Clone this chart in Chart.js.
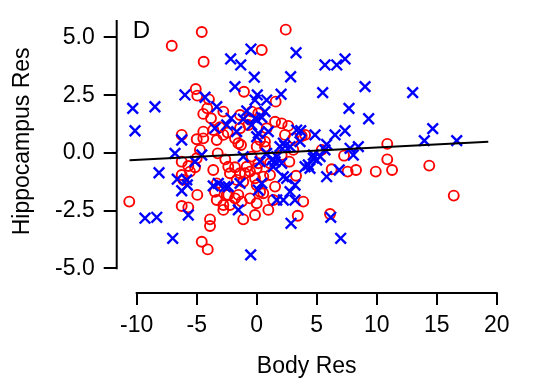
<!DOCTYPE html>
<html>
<head>
<meta charset="utf-8">
<script src="https://cdn.jsdelivr.net/npm/chart.js@4.4.1/dist/chart.umd.min.js"></script>
<style>
  html, body { margin: 0; padding: 0; background: #fff; }
  canvas { display: block; }
</style>
</head>
<body>
<canvas id="chart" width="537" height="390"></canvas>
<script>
// Dane (residua: ciało vs hipokamp)
const circleBody = [
  -4.58, 2.42, -7.08, 0.42, -4.42, -5.08, -4.95, -1.06, 1.58, -3.98,
  -4.12, -4.45, -2.78, -3.81, -6.25, -5.00, -4.45, -3.33, -3.06, -2.42,
  -1.53, -1.39, -0.42, -0.70, 1.53, 2.08, 2.63, 2.36, 3.05, 0.69,
  0.00, -3.62, 10.88, 4.03, 7.28, 10.88, 11.28, 9.92, 8.28, 7.58,
  6.25, 14.38, 16.42, 3.28, 3.88, 3.42, 6.11, 2.72, 3.05, 3.75,
  5.42, -10.62, -6.25, -6.25, -5.70, -4.95, -3.89, -3.89, -4.58, -4.08,
  -3.62, -3.25, -2.62, -3.33, -3.48, -3.33, -2.50, -2.78, -2.78, -2.23,
  -1.67, -1.81, -1.25, -1.12, -0.98, -0.14, 0.00, 0.00, -0.14, 0.55,
  0.97, 1.38, 1.53, -0.42, 0.13, 1.11, -5.70, -5.56, -5.14, -6.12,
  -6.25, -5.00, -4.73, -1.31, 0.28, 0.69, 2.08, -1.81, -0.83, -2.37,
  -1.39, -1.12, -2.37, -1.53, -2.23, -0.56, -0.56, 0.00, 1.11, 0.55,
  0.28, -4.45, -2.78, -1.81, -0.56, -1.39, 0.83, 0.13
];
const circleHippo = [
  5.24, 5.34, 4.64, 4.46, 3.95, 2.77, 2.48, 2.65, 2.22, 2.32,
  1.93, 1.69, 1.79, 1.50, 0.78, 0.59, 0.92, 0.56, 1.11, 0.88,
  0.42, 1.64, 1.79, 1.21, 1.35, 1.28, 1.17, 0.78, 0.63, 0.49,
  0.27, 0.99, 0.39, 0.78, -0.12, -0.28, -0.74, -0.81, -0.74, -0.81,
  -0.71, -0.55, -1.85, -0.99, -2.11, -2.72, -2.65, -0.38, 0.13, 0.73,
  0.13, -2.11, -0.38, -2.30, -2.36, -1.82, -2.88, -3.17, -3.85, -4.18,
  -0.74, -0.02, -0.28, -1.32, -1.68, -2.04, -1.82, -2.26, -2.47, -0.88,
  -1.17, -1.97, -2.11, -2.88, -0.88, -1.10, -1.39, -2.18, -2.69, -1.75,
  -2.47, -2.04, -1.46, -0.16, -0.45, -0.45, -0.57, -0.81, -0.62, -1.17,
  -0.96, -0.23, 0.13, 0.34, 0.56, 0.27, -0.09, -0.62, -0.60, -0.60,
  -0.88, -1.25, -1.82, -1.82, -2.26, -1.97, -0.81, -0.67, -0.96, -1.03,
  -1.68, 0.63, 0.78, 0.63, 1.43, 1.07, 1.07, 1.72
];
const crossBody = [
  -0.48, -2.17, -1.33, -0.20, 2.83, 3.28, -1.81, -5.98, -4.31, -3.33,
  -10.33, -8.48, -10.14, -0.14, 0.05, 0.83, 2.03, 0.69, 0.42, -0.83,
  -2.14, -1.12, -0.42, 0.13, 0.97, -1.67, -6.25, 3.33, 2.36, 5.69,
  6.67, 7.36, 5.50, 9.03, 13.00, 7.69, 9.33, 14.67, 13.97, 16.67,
  3.67, 4.86, 6.53, 7.36, 3.61, 5.83, 7.78, 8.47, 8.05, 5.28,
  4.72, 5.00, 4.30, 4.44, 4.03, 5.83, 6.88, 2.22, 2.50, 3.19,
  2.78, 2.22, 3.19, 2.86, 6.17, 7.00, 2.22, 2.78, -6.81, -8.14,
  -6.62, -6.25, -5.78, -5.14, -4.58, -9.31, -8.33, -5.70, -7.00, -0.50,
  -3.62, -3.20, -2.37, -1.39, -1.53, 0.13, 0.28, 1.25, 1.38, 2.08,
  1.67, -1.12, 0.83, 1.53, 1.67, 0.42, -5.83, -2.64, -0.14, -3.48,
  -2.50, 0.00, 0.00, 4.72, 5.69, 1.94
];
const crossHippo = [
  4.50, 4.07, 3.81, 3.28, 3.30, 4.34, 2.87, 2.51, 2.41, 2.00,
  1.93, 2.00, 0.96, 2.29, 2.51, 2.29, 2.54, 1.79, 1.54, 1.82,
  1.50, 1.46, 1.21, 0.85, 0.92, 0.92, 0.56, 0.99, 0.30, 3.81,
  3.81, 4.07, 2.61, 2.87, 2.61, 1.93, 1.48, 1.05, 0.53, 0.53,
  0.96, 0.78, 0.78, 0.96, 0.49, 0.37, 0.20, 0.27, -0.09, -0.16,
  -0.23, -0.31, -0.52, -0.67, -0.60, -1.03, -0.74, -1.03, -1.10, -1.39,
  -1.68, -2.04, -2.04, -3.05, -2.79, -3.70, 0.42, 0.27, -0.02, -0.86,
  -1.14, -1.64, -1.39, -0.38, -0.09, -2.83, -2.79, -2.69, -3.70, -4.42,
  -1.43, -1.32, -1.46, -1.32, -2.47, -1.61, -0.38, -0.31, -0.60, -0.45,
  -2.04, -0.16, -0.02, -0.38, -0.16, -1.32, -1.17, -1.46, 1.50, 1.07,
  1.21, 0.70, 1.43, -0.09, 0.13, 0.27
];
// Linia regresji
const fitBody = [-10.6, 19.3];
const fitHippo = [-0.32, 0.48];

// Osie
const xTicks = [-10, -5, 0, 5, 10, 15, 20];
const yTicks = [-5, -2.5, 0, 2.5, 5];
const yTickLabels = ['-5.0', '-2.5', '0.0', '2.5', '5.0'];

const toPoints = (xs, ys) => xs.map((x, i) => ({ x: x, y: ys[i] }));

const FONT = '"Liberation Sans", Arial, Helvetica, sans-serif';
Chart.defaults.font.family = FONT;
Chart.defaults.font.size = 23;
Chart.defaults.color = '#000';

// Osie w stylu S/R: linie odsunięte, litera panelu i tytuł osi Y
const axisPlugin = {
  id: 'axisLines',
  afterDraw(chart) {
    const ctx = chart.ctx;
    const area = chart.chartArea;
    const xs = chart.scales.x;
    const ys = chart.scales.y;
    ctx.save();
    ctx.strokeStyle = '#000';
    ctx.lineWidth = 2;
    ctx.beginPath();
    ctx.moveTo(xs.getPixelForValue(xTicks[0]) - 1, area.bottom);
    ctx.lineTo(area.right + 1, area.bottom);
    ctx.moveTo(area.left, ys.getPixelForValue(yTicks[0]) + 1);
    ctx.lineTo(area.left, area.top);
    ctx.stroke();

    ctx.fillStyle = '#000';
    ctx.font = '24px ' + FONT;
    ctx.textAlign = 'left';
    ctx.textBaseline = 'alphabetic';
    ctx.fillText('D', area.left + 16, area.top + 17.5);

    ctx.font = '23px ' + FONT;
    ctx.translate(28.5, ys.getPixelForValue(0.5));
    ctx.rotate(-Math.PI / 2);
    ctx.textAlign = 'center';
    ctx.fillText('Hippocampus Res', 0, 0);
    ctx.restore();
  }
};

new Chart(document.getElementById('chart'), {
  type: 'scatter',
  data: {
    datasets: [
      {
        type: 'line',
        data: toPoints(fitBody, fitHippo),
        borderColor: '#000',
        borderWidth: 2,
        pointRadius: 0,
        fill: false,
        order: 0
      },
      {
        data: toPoints(crossBody, crossHippo),
        pointStyle: 'crossRot',
        pointRadius: 7.5,
        borderColor: '#0000ff',
        borderWidth: 2.4,
        order: 1
      },
      {
        data: toPoints(circleBody, circleHippo),
        pointStyle: 'circle',
        pointRadius: 5,
        borderColor: '#ff0000',
        backgroundColor: 'rgba(0,0,0,0)',
        borderWidth: 1.9,
        order: 2
      }
    ]
  },
  options: {
    responsive: false,
    animation: false,
    devicePixelRatio: 1,
    clip: false,
    layout: { padding: { top: 20, right: 40.3, bottom: 0, left: 0 } },
    scales: {
      x: {
        type: 'linear',
        min: -11.667,
        max: 20,
        afterBuildTicks: (scale) => { scale.ticks = xTicks.map(v => ({ value: v })); },
        afterFit: (scale) => { scale.height = 97; scale.paddingLeft = 0; scale.paddingRight = 0; },
        grid: { display: true, drawOnChartArea: false, drawTicks: true, tickLength: 12, color: '#000', lineWidth: 2 },
        border: { display: false },
        ticks: { padding: 7, maxRotation: 0, autoSkip: false, callback: (v) => String(v) },
        title: { display: true, text: 'Body Res', padding: { top: 0, bottom: 10 } }
      },
      y: {
        type: 'linear',
        min: -6.07,
        max: 5.758,
        afterBuildTicks: (scale) => { scale.ticks = yTicks.map(v => ({ value: v })); },
        afterFit: (scale) => { scale.width = 116.7; scale.paddingTop = 0; scale.paddingBottom = 0; },
        grid: { display: true, drawOnChartArea: false, drawTicks: true, tickLength: 13, color: '#000', lineWidth: 2 },
        border: { display: false },
        ticks: { padding: 9, autoSkip: false, callback: (v) => yTickLabels[yTicks.indexOf(v)] }
      }
    },
    plugins: {
      legend: { display: false },
      tooltip: { enabled: false }
    }
  },
  plugins: [axisPlugin]
});
</script>
</body>
</html>
